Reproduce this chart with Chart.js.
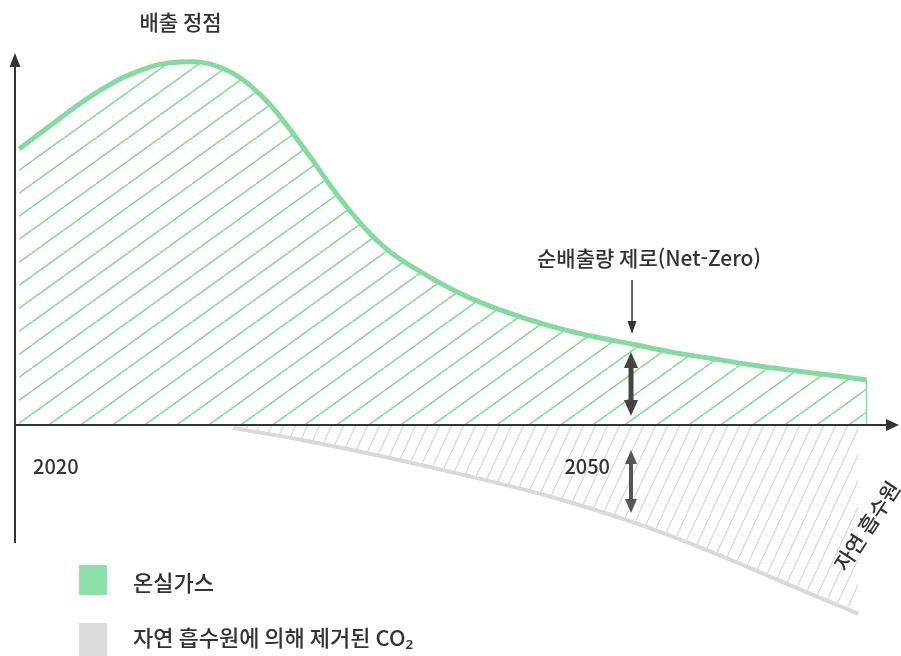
<!DOCTYPE html>
<html lang="ko">
<head>
<meta charset="utf-8">
<script src="https://cdn.jsdelivr.net/npm/chart.js@4.4.1/dist/chart.umd.min.js"></script>
<style>
html, body { margin: 0; padding: 0; background: #fff; }
#wrap { width: 901px; height: 656px; }
</style>
</head>
<body>
<div id="wrap"><canvas id="netZeroChart" width="901" height="656"></canvas></div>
<script>
// 온실가스 배출 (배출 정점 = 100)
var ghgYears  = [2020.2, 2022, 2024, 2026, 2028, 2030, 2032, 2034, 2036, 2038, 2040, 2042, 2044, 2046, 2048, 2050, 2052, 2054, 2056, 2058, 2060, 2061.4];
var ghgValues = [76, 83.7, 91.7, 97.5, 100, 98.5, 90.6, 76.6, 61, 48.8, 41.3, 35.3, 30.9, 27.3, 24.5, 22.3, 20, 18.2, 16.4, 14.9, 13.5, 12.4];

// 자연 흡수원에 의해 제거된 CO2 (음수)
var sinkYears  = [2030.6, 2034, 2038, 2042, 2046, 2050, 2054, 2058, 2061];
var sinkValues = [-0.8, -4.2, -8.8, -14, -19.7, -26.7, -35.3, -44.9, -52];

var tickYears  = [2020, 2050];
var tickLabels = ['2020', '2050'];
var netZeroYear = 2050;
var peakYear = 2028;
var legendLabels = ['온실가스', '자연 흡수원에 의해 제거된 CO₂'];

var green = '#84dba0';
var greenLegend = '#8ee0aa';
var grey = '#d9d9d9';
var ink = '#333333';
var font = '"Noto Sans CJK KR", "Noto Sans", sans-serif';

var canvas = document.getElementById('netZeroChart');
var ctx = canvas.getContext('2d');

// 빗금 패턴
function hatch(color, w, h, lw) {
    var c = document.createElement('canvas');
    c.width = w; c.height = h;
    var g = c.getContext('2d');
    g.strokeStyle = color;
    g.lineWidth = lw;
    for (var k = -1; k <= 1; k++) {
        g.beginPath();
        g.moveTo(k * w, h);
        g.lineTo(k * w + w, 0);
        g.stroke();
    }
    return ctx.createPattern(c, 'repeat');
}

function pts(xs, ys) {
    return xs.map(function (x, i) { return { x: x, y: ys[i] }; });
}

function arrowHead(c, x, y, dir, w, h) {
    c.beginPath();
    c.moveTo(x, y);
    c.lineTo(x - w / 2, y - dir * h);
    c.lineTo(x + w / 2, y - dir * h);
    c.closePath();
    c.fill();
}

var overlay = {
    id: 'overlay',
    afterDatasetsDraw: function (chart) {
        var c = chart.ctx;
        var xs = chart.scales.x, ys = chart.scales.y;
        var x0 = xs.getPixelForValue(2020), y0 = ys.getPixelForValue(0);
        c.save();

        // 끝 세로선
        var lastX = xs.getPixelForValue(ghgYears[ghgYears.length - 1]);
        c.strokeStyle = green; c.lineWidth = 1.5;
        c.beginPath();
        c.moveTo(lastX, ys.getPixelForValue(ghgValues[ghgValues.length - 1]));
        c.lineTo(lastX, y0);
        c.stroke();

        // 축
        c.strokeStyle = ink; c.fillStyle = ink; c.lineWidth = 2;
        c.beginPath();
        c.moveTo(x0, 543); c.lineTo(x0, 64);
        c.moveTo(x0, y0); c.lineTo(888, y0);
        c.stroke();
        arrowHead(c, x0, 53, -1, 11, 14);
        c.beginPath();
        c.moveTo(899, y0); c.lineTo(886, y0 - 6); c.lineTo(886, y0 + 6); c.closePath(); c.fill();

        // 눈금 라벨
        c.font = '500 20px ' + font;
        c.textBaseline = 'middle';
        c.textAlign = 'left';
        c.fillText(tickLabels[0], xs.getPixelForValue(tickYears[0]) + 18, y0 + 41);
        c.textAlign = 'right';
        c.fillText(tickLabels[1], xs.getPixelForValue(tickYears[1]) - 22, y0 + 41);
        c.textAlign = 'center';

        // 배출 정점
        c.font = '500 21px ' + font;
        c.fillText('배출 정점', xs.getPixelForValue(peakYear) + 1, ys.getPixelForValue(100) - 40);

        // 순배출량 제로
        var nx = xs.getPixelForValue(netZeroYear);
        var ngy = ys.getPixelForValue(ghgValues[ghgYears.indexOf(netZeroYear)]);
        var nsy = ys.getPixelForValue(sinkValues[sinkYears.indexOf(netZeroYear)]);
        c.fillText('순배출량 제로(Net-Zero)', nx + 17, ngy - 86);
        c.lineWidth = 1.5;
        c.beginPath(); c.moveTo(nx, ngy - 64); c.lineTo(nx, ngy - 20); c.stroke();
        arrowHead(c, nx, ngy - 10, 1, 9, 13);

        // 굵은 양방향 화살표
        c.fillStyle = '#444';
        c.strokeStyle = '#444';
        c.lineWidth = 5;
        c.beginPath(); c.moveTo(nx - 1, ngy + 20); c.lineTo(nx - 1, y0 - 20); c.stroke();
        arrowHead(c, nx - 1, ngy + 8, -1, 14, 16);
        arrowHead(c, nx - 1, y0 - 9, 1, 14, 16);

        // 아래 양방향 화살표
        c.fillStyle = '#555'; c.strokeStyle = '#555';
        c.lineWidth = 4;
        c.beginPath(); c.moveTo(nx - 1, y0 + 36); c.lineTo(nx - 1, nsy - 20); c.stroke();
        arrowHead(c, nx - 1, y0 + 25, -1, 12, 14);
        arrowHead(c, nx - 1, nsy - 9, 1, 12, 14);

        // 자연 흡수원 (회전)
        c.fillStyle = ink;
        c.translate(867, 526);
        c.rotate(-57 * Math.PI / 180);
        c.font = '500 21px ' + font;
        c.fillText('자연 흡수원', 0, 0);
        c.setTransform(1, 0, 0, 1, 0, 0);

        // 범례
        c.fillStyle = greenLegend; c.fillRect(79, 565, 28, 30);
        c.fillStyle = '#dcdcdc'; c.fillRect(79, 623, 28, 33);
        c.fillStyle = ink;
        c.textAlign = 'left';
        c.font = '500 22px ' + font;
        c.fillText(legendLabels[0], 133, 583);
        c.fillText(legendLabels[1], 133, 638);
        c.restore();
    }
};

new Chart(ctx, {
    type: 'line',
    data: {
        datasets: [{
            label: legendLabels[1],
            data: pts(sinkYears, sinkValues),
            borderColor: grey,
            borderWidth: 4,
            backgroundColor: hatch('#d3d3d3', 12, 26, 1.1),
            fill: 'origin',
            pointRadius: 0,
            tension: 0.4
        }, {
            label: legendLabels[0],
            data: pts(ghgYears, ghgValues),
            borderColor: green,
            borderWidth: 5,
            backgroundColor: hatch(green, 32, 23, 1.6),
            fill: 'origin',
            pointRadius: 0,
            tension: 0.4
        }]
    },
    options: {
        responsive: false,
        animation: false,
        layout: { padding: { left: 15, right: 1.6, top: 25.7, bottom: 13.2 } },
        scales: {
            x: { type: 'linear', min: 2020, max: 2063, display: false },
            y: { min: -60, max: 110, display: false }
        },
        plugins: {
            legend: { display: false },
            tooltip: { enabled: false }
        }
    },
    plugins: [overlay]
});
</script>
</body>
</html>
